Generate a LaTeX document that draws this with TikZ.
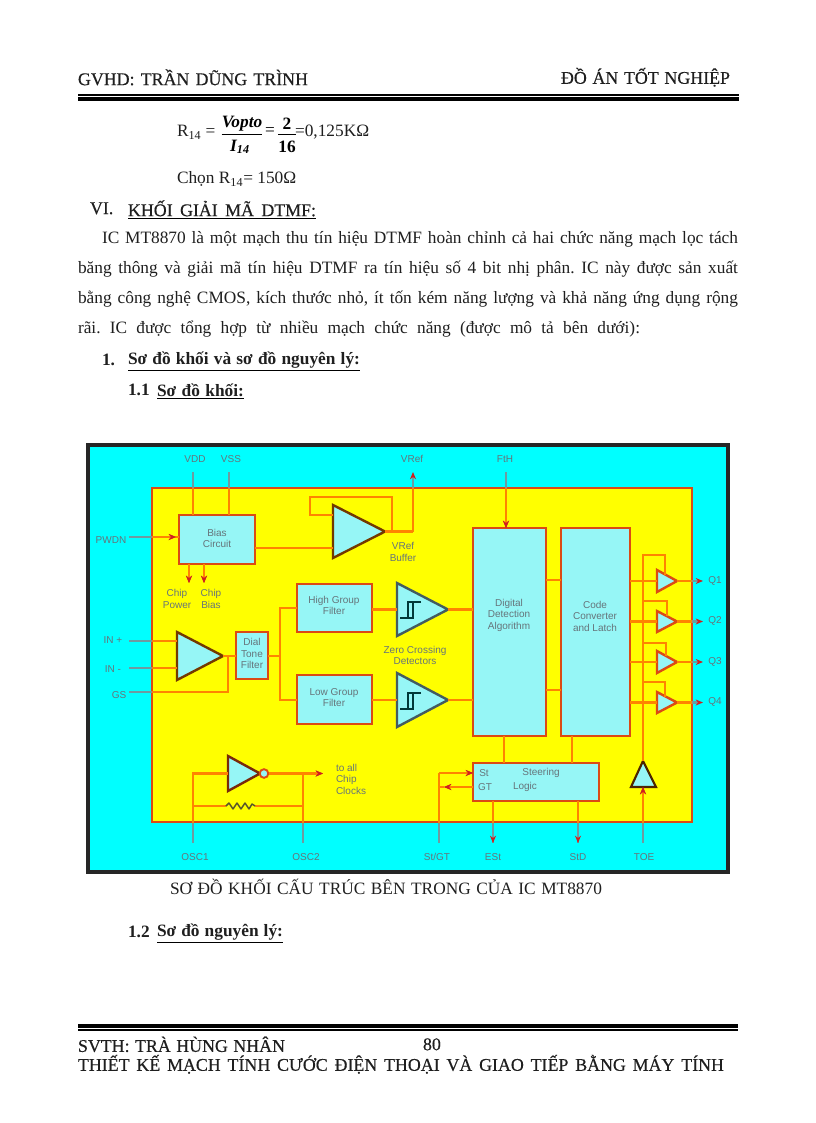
\documentclass[tikz,border=0pt]{standalone}
\usepackage{fontspec}
\usetikzlibrary{arrows.meta}
\setmainfont{Liberation Serif}
\newfontfamily\diagf{Liberation Sans}
\newfontfamily\hdrf[FakeBold=0.4]{Liberation Serif}
\frenchspacing
\newlength\pxu \setlength\pxu{0.75pt}
\definecolor{boxred}{HTML}{DB4A14}
\definecolor{wireorange}{HTML}{FF8400}
\definecolor{wiregrey}{HTML}{6F9AA0}
\definecolor{txtgrey}{HTML}{66747A}
\definecolor{paleblue}{HTML}{96F6F6}
\definecolor{tipred}{HTML}{D02020}
\definecolor{panelcyan}{HTML}{00FFFF}
\definecolor{panelyellow}{HTML}{FFFF00}
\colorlet{wirecol}{wiregrey}
\tikzset{
  x=0.75pt,y=-0.75pt,
  pagetext/.style={anchor=west,inner sep=0pt,outer sep=0pt,yshift=0.5pt,font=\fontsize{13}{15}\selectfont,text=black!88},
  hdrtext/.style={pagetext,font=\hdrf\fontsize{13.4}{16}\selectfont},
  boldtext/.style={pagetext,font=\bfseries\fontsize{13}{15}\selectfont},
  under/.style={draw=black,line width=0.9pt},
  blockbox/.style={draw=boxred,fill=paleblue,line width=2pt,inner sep=0pt,outer sep=0pt},
  lbl/.style={inner sep=0pt,outer sep=0pt,align=center,text=txtgrey,font=\diagf\fontsize{7.5}{8.6}\selectfont},
  wire/.style={draw=wirecol,line width=1.6pt},
  arr/.style={wire,-{Stealth[length=5.5pt,width=4.5pt,color=tipred]}},
  tri/.style={draw=#1,fill=paleblue,line width=1.8pt,line join=miter},
}
\newcommand\pgl[6][pagetext]{\node[#1] (#2) at (#3,#4) {\makebox[#5\pxu][s]{#6}};}
\newcommand\bx[5]{%
  \pgfmathsetmacro\bw{(#4-#2)*0.75}\pgfmathsetmacro\bh{(#5-#3)*0.75}%
  \pgfmathsetmacro\bcx{(#4+#2)/2}\pgfmathsetmacro\bcy{(#5+#3)/2}%
  \node[blockbox,minimum width=\bw pt,minimum height=\bh pt] (#1) at (\bcx,\bcy) {};}
\newcommand\lb[4]{\node[lbl] (#1) at (#2,#3) {#4};}
% name, colour, left x, top y, bottom y, tip x
\newcommand\trg[6]{%
  \pgfmathsetmacro\bcy{(#4+#5)/2}%
  \coordinate (#1-l) at (#3,\bcy);\coordinate (#1-t) at (#6,\bcy);
  \draw[tri=#2] (#3,#4) -- (#6,\bcy) -- (#3,#5) -- cycle;}
\newcommand\wires{}
\begin{document}
\begin{tikzpicture}
\useasboundingbox (0,0) rectangle (816,1123);
\fill[white] (0,0) rectangle (816,1123);
% page furniture
\pgl[hdrtext]{h1}{78}{78}{230}{GVHD:  TRẦN  DŨNG  TRÌNH}
\pgl[hdrtext]{h2}{561}{78}{169}{ĐỒ ÁN TỐT  NGHIỆP}
\draw[black,line width=0.8pt] (78,95) coordinate (hr1) -- (739,95) coordinate (hr2);
\draw[black,line width=2.6pt] (hr1 |- 0,99) -- (hr2 |- 0,99);
% formula
\node[pagetext] (f1) at (177,133) {R\textsubscript{14} =};
\node[inner sep=0pt,font=\bfseries\itshape\fontsize{13}{15}\selectfont] (f2) at (242,124) {Vopto};
\node[inner sep=0pt,font=\bfseries\itshape\fontsize{13}{15}\selectfont] (f3) at (240,147) {I\textsubscript{14}};
\draw[black,line width=0.7pt] (f2.south west |- 0,134) -- (f2.south east |- 0,134);
\node[inner sep=0pt,font=\fontsize{13}{15}\selectfont] (f4) at (270,132) {=};
\node[inner sep=0pt,font=\bfseries\fontsize{13}{15}\selectfont] (f5) at (287,124) {2};
\node[inner sep=0pt,font=\bfseries\fontsize{13}{15}\selectfont] (f6) at (287,147) {16};
\draw[black,line width=0.7pt] (f6.south west |- 0,134) -- (f6.south east |- 0,134);
\node[pagetext] (f7) at (295,133) {=0,125KΩ};
\node[pagetext] (c1) at (177,180) {Chọn R\textsubscript{14}= 150Ω};
\node[hdrtext] (s1) at (90,209) {VI.};
\pgl[hdrtext]{s2}{128}{209}{188}{KHỐI GIẢI MÃ DTMF:}
\draw[under] ([yshift=-1.5pt]s2.south west) -- ([yshift=-1.5pt]s2.south east);
\pgl{p1}{102}{240}{636}{IC MT8870 là một mạch thu tín hiệu DTMF hoàn chỉnh cả hai chức năng mạch lọc tách}
\pgl{p2}{78}{270}{660}{băng thông và giải mã tín hiệu DTMF ra tín hiệu số 4 bit nhị phân. IC này được sản xuất}
\pgl{p3}{78}{300}{660}{bằng công nghệ CMOS, kích thước nhỏ, ít tốn kém năng lượng và khả năng ứng dụng rộng}
\pgl{p4}{78}{330}{562}{rãi. IC được tổng hợp từ nhiều mạch chức năng (được mô tả bên dưới):}
\node[boldtext] (n1) at (102,361) {1.};
\pgl[boldtext]{n2}{128}{361}{232}{Sơ đồ khối và sơ đồ nguyên lý:}
\draw[under] ([yshift=-1.5pt]n2.south west) -- ([yshift=-1.5pt]n2.south east);
\node[boldtext] (n3) at (128,391) {1.1};
\pgl[boldtext]{n4}{157}{391}{87}{Sơ đồ khối:}
\draw[under] ([yshift=-1.5pt]n4.south west) -- ([yshift=-1.5pt]n4.south east);
\pgl{cap}{170}{888}{432}{SƠ ĐỒ KHỐI CẤU TRÚC BÊN TRONG CỦA IC MT8870}
\node[boldtext] (n5) at (128,933) {1.2};
\pgl[boldtext]{n6}{157}{933}{126}{Sơ đồ nguyên lý:}
\draw[under] ([yshift=-1.5pt]n6.south west) -- ([yshift=-1.5pt]n6.south east);
\draw[black,line width=2.6pt] (78,1026) coordinate (fr1) -- (738,1026) coordinate (fr2);
\draw[black,line width=0.8pt] (fr1 |- 0,1030) -- (fr2 |- 0,1030);
\pgl[hdrtext]{fa}{78}{1045}{207}{SVTH:  TRÀ  HÙNG NHÂN}
\node[hdrtext] (fb) at (423,1045) {80};
\pgl[hdrtext]{fc}{78}{1065}{646}{THIẾT KẾ MẠCH TÍNH CƯỚC ĐIỆN THOẠI VÀ GIAO TIẾP BẰNG MÁY TÍNH}
% diagram panels
\draw[black!85,line width=2.4pt,fill=panelcyan] (88,445) rectangle (728,872);
\draw[boxred,line width=1.8pt,fill=panelyellow] (152,488) rectangle (692,822);
% blocks
\bx{bias}{179}{515}{255}{564}
\bx{high}{297}{584}{372}{632}
\bx{low}{297}{675}{372}{724}
\bx{dial}{236}{632}{268}{679}
\bx{digital}{473}{528}{546}{736}
\bx{code}{561}{528}{630}{736}
\bx{steer}{473}{763}{599}{801}
\trg{vref}{black!55!orange}{333}{505}{558}{385}
\trg{amp}{black!55!orange}{177}{632}{680}{223}
\trg{zh}{black!40!wiregrey}{397}{583}{636}{448}
\trg{zl}{black!40!wiregrey}{397}{673}{727}{448}
\trg{q1}{boxred}{657}{570}{592}{677}
\trg{q2}{boxred}{657}{611}{632}{677}
\trg{q3}{boxred}{657}{651}{673}{677}
\trg{q4}{boxred}{657}{692}{713}{677}
\trg{inv}{black!45!boxred}{228}{756}{791}{260}
\node[draw=boxred,fill=paleblue,circle,line width=1.4pt,minimum size=6.5pt,inner sep=0pt] (bub) at (264,773.5) {};
\draw[draw=black!70!orange,fill=paleblue,line width=1.6pt] (643,761) coordinate (toe-t) -- (656,787) -- (631,787) -- cycle;
\coordinate (toe-b) at (643,787);
% hysteresis symbols
\draw[black!55!teal,line width=1.1pt] (400,618) -- (413,618) -- (413,602) (421,602) -- (408,602) -- (408,618);
\draw[black!55!teal,line width=1.1pt] (400,709) -- (413,709) -- (413,693) (421,693) -- (408,693) -- (408,709);
% pin coordinates
\coordinate (pvdd) at (193,472);
\coordinate (pvss) at (229,472);
\coordinate (pvrefout) at (413,472);
\coordinate (pfth) at (506,472);
\coordinate (ppwdn) at (129,537);
\coordinate (pinp) at (129,641);
\coordinate (pinm) at (129,668);
\coordinate (pgs) at (129,692);
\coordinate (posc1) at (193,843);
\coordinate (posc2) at (303,843);
\coordinate (pstgt) at (439,843);
\coordinate (pest) at (493,843);
\coordinate (pstd) at (578,843);
\coordinate (ptoe) at (643,843);
\coordinate (pcp) at (189,583);
\coordinate (pcb) at (204,583);
\coordinate (pclk) at (323,773.5);
\renewcommand\wires{%
  \draw[wire] (pvdd) -- (pvdd |- bias.north);
  \draw[wire] (pvss) -- (pvss |- bias.north);
  \draw[wire] (ppwdn) -- (ppwdn -| bias.west);
  \draw[arr] (ppwdn) -- (176,537);
  \draw[arr] (pcp |- bias.south) -- (pcp);
  \draw[arr] (pcb |- bias.south) -- (pcb);
  \draw[wire] (bias.east |- 0,548) -- (vref-l |- 0,548);
  \draw[wire] (vref-l |- 0,515) -- (310,515) -- (310,497) -- (392,497) -- (392,532);
  \draw[wire] (vref-t) -- (vref-t -| pvrefout);
  \draw[arr] (vref-t -| pvrefout) -- (pvrefout);
  \draw[arr] (pfth) -- (pfth |- digital.north);
  \draw[wire] (pinp) -- (pinp -| amp-l);
  \draw[wire] (pinm) -- (pinm -| amp-l);
  \draw[wire] (pgs) -- (228,692) -- (228,656) (amp-t) -- (amp-t -| dial.west);
  \draw[wire] (amp-t -| dial.east) -- (280,656);
  \draw[wire] (high.west |- 0,608) -- (280,608) -- (280,700) -- (low.west |- 0,700);
  \draw[wire] (high.east |- zh-l) -- (zh-l);
  \draw[wire] (low.east |- zl-l) -- (zl-l);
  \draw[wire] (zh-t) -- (zh-t -| digital.west);
  \draw[wire] (zl-t) -- (zl-t -| digital.west);
  \draw[wire] (digital.east |- 0,580) -- (code.west |- 0,580);
  \draw[wire] (digital.east |- 0,690) -- (code.west |- 0,690);
  \draw[wire] (504,736) -- (504,763);
  \draw[wire] (572,736) -- (572,763);
  \draw[wire,line width=2.2pt] (code.east |- q1-l) -- (q1-l);
  \draw[wire,line width=2.2pt] (code.east |- q2-l) -- (q2-l);
  \draw[wire,line width=2.2pt] (code.east |- q3-l) -- (q3-l);
  \draw[wire,line width=2.2pt] (code.east |- q4-l) -- (q4-l);
  \draw[arr] (q1-t) -- (703,581);
  \draw[arr] (q2-t) -- (703,621.5);
  \draw[arr] (q3-t) -- (703,662);
  \draw[arr] (q4-t) -- (703,702.5);
  \draw[wire,line width=2.2pt] (toe-t) -- (643,555) -- (665,555) -- (665,575);
  \draw[wire,line width=2.2pt] (643,601) -- (667,601) -- (667,616);
  \draw[wire,line width=2.2pt] (643,643) -- (666,643) -- (666,656);
  \draw[wire,line width=2.2pt] (643,682) -- (665,682) -- (665,697);
  \draw[arr] (ptoe) -- (toe-b);
  \draw[wire] (pstgt) -- (439,773);
  \draw[arr] (439,773) -- (steer.west |- 0,773);
  \draw[arr] (steer.west |- 0,787) -- (444,787);
  \draw[wire] (444,787) -- (439,787);
  \draw[wire] (pest |- steer.south) -- (pest);
  \draw[arr] (pest |- 0,822) -- (pest);
  \draw[wire] (pstd |- steer.south) -- (pstd);
  \draw[arr] (pstd |- 0,822) -- (pstd);
  \draw[wire] (posc1) -- (193,773.5) -- (inv-l);
  \draw[arr] (bub.east) -- (pclk);
  \draw[wire] (posc2) -- (303,773.5);
  \draw[wire] (193,806) -- (226,806) (255,806) -- (303,806);
}
\begingroup
\colorlet{wirecol}{wiregrey}
\wires
\endgroup
\begin{scope}
\clip (152,488) rectangle (692,822);
\colorlet{wirecol}{wireorange}
\wires
\end{scope}
\draw[black!50!olive,line width=1.1pt,line join=round] (226,806) -- (229,803) -- (233,809) -- (237,803) -- (241,809) -- (245,803) -- (249,809) -- (252,804) -- (255,806);
% labels
\lb{t1}{217}{538.5}{Bias\\Circuit}
\lb{t2}{334}{605.5}{High Group\\Filter}
\lb{t3}{334}{697.5}{Low Group\\Filter}
\lb{t4}{252}{653.5}{Dial\\Tone\\Filter}
\lb{t5}{509}{615}{Digital\\Detection\\Algorithm}
\lb{t6}{595}{616}{Code\\Converter\\and Latch}
\lb{t7}{484}{773}{St}
\lb{t8}{485}{787}{GT}
\lb{t9}{541}{773}{Steering}
\lb{t10}{525}{787}{Logic}
\lb{t11}{195}{459}{VDD}
\lb{t12}{231}{459}{VSS}
\lb{t13}{412}{459}{VRef}
\lb{t14}{505}{459}{FtH}
\lb{t15}{403}{552}{VRef\\Buffer}
\lb{t16}{111}{540}{PWDN}
\lb{t17}{177}{599}{Chip\\Power}
\lb{t18}{211}{599}{Chip\\Bias}
\lb{t19}{113}{640}{IN +}
\lb{t20}{113}{669}{IN -}
\lb{t21}{119}{695}{GS}
\lb{t22}{415}{655.5}{Zero Crossing\\Detectors}
\node[lbl,align=left] (t23) at (351,779) {to all\\Chip\\Clocks};
\lb{t24}{195}{857}{OSC1}
\lb{t25}{306}{857}{OSC2}
\lb{t26}{437}{857}{St/GT}
\lb{t27}{493}{857}{ESt}
\lb{t28}{578}{857}{StD}
\lb{t29}{644}{857}{TOE}
\lb{t30}{715}{581}{Q1}
\lb{t31}{715}{621}{Q2}
\lb{t32}{715}{662}{Q3}
\lb{t33}{715}{702}{Q4}
\end{tikzpicture}
\end{document}
